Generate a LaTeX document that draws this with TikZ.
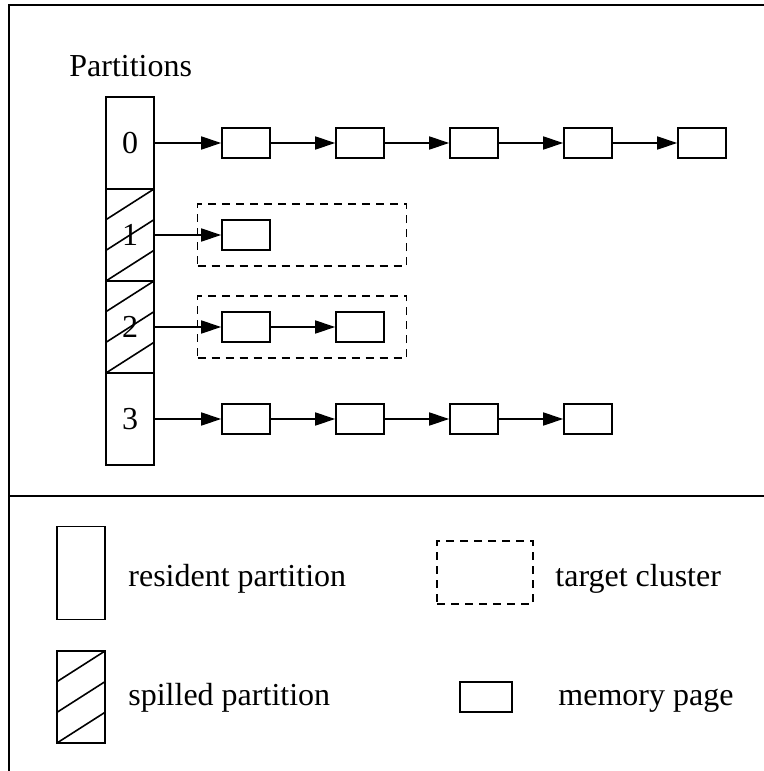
\documentclass[tikz,border=0pt]{standalone}
\usepackage{fontspec}
\setmainfont{Liberation Serif}
\usetikzlibrary{positioning,arrows.meta}

\tikzset{
  cell/.style={draw, line width=0.8pt, minimum width=24pt, minimum height=46pt, inner sep=0pt},
  spilled/.style={cell, path picture={
      \foreach \k in {0,1,2}
        \draw[line width=0.8pt] ([yshift={-\k*15.33pt}]path picture bounding box.north east)
          -- ([yshift={-(\k+1)*15.33pt}]path picture bounding box.north west);
    }},
  page/.style={draw, line width=0.8pt, minimum width=24pt, minimum height=15pt, inner sep=0pt},
  cluster/.style={draw, line width=0.8pt, dash pattern=on 4pt off 3pt, minimum width=104.5pt, minimum height=31pt, inner sep=0pt},
  link/.style={-{Triangle[length=10pt,width=6.5pt]}, line width=0.8pt},
  lbl/.style={anchor=base west, inner sep=0pt},
}

\begin{document}
\begin{tikzpicture}[x=0.5pt, y=-0.5pt, node distance=32.2pt, font=\fontsize{16}{19}\selectfont]
    \useasboundingbox (0,0) rectangle (764,771);

    % frame
    \draw[line width=0.9pt] (764,5) -- (9,5) -- (9,771);
    \draw[line width=0.9pt] (9,496) -- (764,496);

    \node[lbl] (title) at (69,76) {Partitions};

    % partition column
    \node[cell] (part0) at (130,143) {0};
    \node[spilled, below=-0.8pt of part0] (part1) {1};
    \node[spilled, below=-0.8pt of part1] (part2) {2};
    \node[cell, below=-0.8pt of part2] (part3) {3};

    % target clusters
    \node[cluster, right=21pt of part1] (clus1) {};
    \node[cluster, right=21pt of part2] (clus2) {};

    % pages
    \node[page, right=33.2pt of part0] (p00) {};
    \node[page, right=of p00] (p01) {};
    \node[page, right=of p01] (p02) {};
    \node[page, right=of p02] (p03) {};
    \node[page, right=of p03] (p04) {};

    \node[page, right=33.2pt of part1] (p10) {};

    \node[page, right=33.2pt of part2] (p20) {};
    \node[page, right=of p20] (p21) {};

    \node[page, right=33.2pt of part3] (p30) {};
    \node[page, right=of p30] (p31) {};
    \node[page, right=of p31] (p32) {};
    \node[page, right=of p32] (p33) {};

    \draw[link] (part0) -- (p00);
    \draw[link] (p00) -- (p01);
    \draw[link] (p01) -- (p02);
    \draw[link] (p02) -- (p03);
    \draw[link] (p03) -- (p04);
    \draw[link] (part1) -- (p10);
    \draw[link] (part2) -- (p20);
    \draw[link] (p20) -- (p21);
    \draw[link] (part3) -- (p30);
    \draw[link] (p30) -- (p31);
    \draw[link] (p31) -- (p32);
    \draw[link] (p32) -- (p33);

    % legend
    \node[cell, minimum height=46.5pt] (lres) at (81,573) {};
    \node[lbl] (tres) at (128,586) {resident partition};
    \node[spilled] (lspill) at (81,697) {};
    \node[lbl] (tspill) at (128,705) {spilled partition};
    \node[cluster, minimum width=48pt, minimum height=31.5pt] (lclus) at (485,572.5) {};
    \node[lbl] (tclus) at (555,586) {target cluster};
    \node[page, minimum width=26pt] (lpage) at (486,697) {};
    \node[lbl] (tpage) at (558,705) {memory page};
\end{tikzpicture}
\end{document}
